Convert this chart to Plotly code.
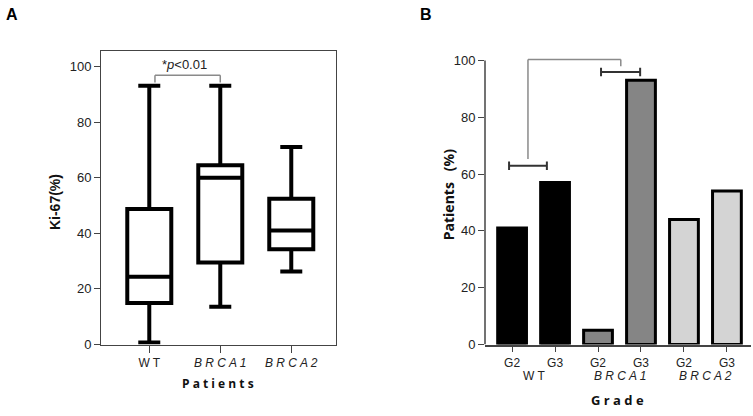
import plotly.graph_objects as go

W, H = 753, 416

# ---------- Data ----------
# Panel A: Ki-67 box plots
box_groups = ["WT", "BRCA1", "BRCA2"]
box_ticktext = ["W T", "<i>B R C A 1</i>", "<i>B R C A 2</i>"]
box_min = [0.7, 13.6, 26.3]
box_q1 = [14.9, 29.5, 34.3]
box_median = [24.4, 60.0, 41.0]
box_q3 = [48.7, 64.5, 52.4]
box_max = [93.0, 93.0, 71.0]

# Panel B: patients (%) by grade
bar_labels = ["G2", "G3", "G2", "G3", "G2", "G3"]
bar_groups = ["W T", "<i>B R C A 1</i>", "<i>B R C A 2</i>"]
bar_values = [41, 57, 5, 93, 44, 54]
bar_colors = ["#000000", "#000000", "#858585", "#858585", "#d4d4d4", "#d4d4d4"]

# ---------- Layout helpers ----------
def px_x(p):
    return p / W

def px_y(p):
    return 1 - p / H

fig = go.Figure()

pos_a = list(range(len(box_groups)))
fig.add_trace(go.Box(
    x=pos_a, q1=box_q1, median=box_median, q3=box_q3,
    lowerfence=box_min, upperfence=box_max,
    width=0.62, whiskerwidth=0.5,
    line=dict(color="black", width=4), fillcolor="white",
    boxpoints=False, showlegend=False, hoverinfo="skip",
    xaxis="x", yaxis="y",
))

pos_b = list(range(len(bar_values)))
fig.add_trace(go.Bar(
    x=pos_b, y=bar_values, width=0.67,
    marker=dict(color=bar_colors, line=dict(color="black", width=3)),
    showlegend=False, hoverinfo="skip",
    xaxis="x2", yaxis="y2",
))

axis_col = "#444444"
tick_font = dict(family="Liberation Sans, Arial, sans-serif", size=13, color="#222")

fig.update_layout(
    width=W, height=H,
    margin=dict(l=0, r=0, t=0, b=0),
    paper_bgcolor="white", plot_bgcolor="white",
    xaxis=dict(
        domain=[px_x(101), px_x(336)], range=[-0.68, 2.63],
        tickvals=pos_a, ticktext=box_ticktext,
        showline=True, mirror=True, linecolor=axis_col, linewidth=1,
        ticks="outside", ticklen=7, tickcolor=axis_col,
        showgrid=False, zeroline=False, tickfont=dict(tick_font, size=12),
    ),
    yaxis=dict(
        domain=[px_y(351), px_y(50)], range=[0, 105.6],
        tickvals=[0, 20, 40, 60, 80, 100],
        showline=True, mirror=True, linecolor=axis_col, linewidth=1,
        ticks="outside", ticklen=6, tickcolor=axis_col,
        showgrid=False, zeroline=False, tickfont=tick_font,
    ),
    xaxis2=dict(
        domain=[px_x(485), px_x(751)], range=[-0.63, 5.56],
        tickvals=pos_b, ticktext=bar_labels,
        showline=True, linecolor=axis_col, linewidth=1.5,
        ticks="outside", ticklen=6, tickcolor=axis_col,
        showgrid=False, zeroline=False, tickfont=dict(tick_font, size=12),
        anchor="y2",
    ),
    yaxis2=dict(
        domain=[px_y(351), px_y(54)], range=[0, 102],
        tickvals=[0, 20, 40, 60, 80, 100],
        showline=False,
        ticks="outside", ticklen=6, tickcolor=axis_col,
        showgrid=False, zeroline=False, tickfont=tick_font,
        anchor="x2",
    ),
)

shapes = []
# Panel B y-axis line from 0 to 100
shapes.append(dict(type="line", xref="x2 domain", yref="y2", x0=0, x1=0, y0=0, y1=100,
                   line=dict(color=axis_col, width=1.5)))
# Panel A significance bracket
gcol = "#8a8a8a"
shapes += [
    dict(type="line", xref="x", yref="y", x0=0.08, x1=1.0, y0=96.8, y1=96.8, line=dict(color=gcol, width=1.5)),
    dict(type="line", xref="x", yref="y", x0=0.08, x1=0.08, y0=94.2, y1=96.8, line=dict(color=gcol, width=1.5)),
    dict(type="line", xref="x", yref="y", x0=1.0, x1=1.0, y0=94.2, y1=96.8, line=dict(color=gcol, width=1.5)),
]
# Panel B brackets
shapes += [
    dict(type="line", xref="x2", yref="y2", x0=0.37, x1=0.37, y0=65.3, y1=100.3, line=dict(color=gcol, width=1.5)),
    dict(type="line", xref="x2", yref="y2", x0=0.37, x1=2.53, y0=100.3, y1=100.3, line=dict(color=gcol, width=1.5)),
    dict(type="line", xref="x2", yref="y2", x0=2.53, x1=2.53, y0=97.9, y1=100.3, line=dict(color=gcol, width=1.5)),
]
dcol = "#333333"
for (xa, xb, yv) in [(-0.07, 0.81, 62.9), (2.07, 2.98, 95.9)]:
    shapes += [
        dict(type="line", xref="x2", yref="y2", x0=xa, x1=xb, y0=yv, y1=yv, line=dict(color=dcol, width=2)),
        dict(type="line", xref="x2", yref="y2", x0=xa, x1=xa, y0=yv - 1.5, y1=yv + 1.5, line=dict(color=dcol, width=2)),
        dict(type="line", xref="x2", yref="y2", x0=xb, x1=xb, y0=yv - 1.5, y1=yv + 1.5, line=dict(color=dcol, width=2)),
    ]
fig.update_layout(shapes=shapes)

title_font = dict(family="Open Sans, Liberation Sans, sans-serif", size=13, color="#111")
C = dict(xanchor="center", yanchor="middle", showarrow=False)
ann = [
    dict(text="<b>A</b>", xref="paper", yref="paper", x=px_x(12), y=px_y(13),
         font=dict(family="Liberation Sans, Arial", size=16, color="black"), **C),
    dict(text="<b>B</b>", xref="paper", yref="paper", x=px_x(426), y=px_y(13),
         font=dict(family="Liberation Sans, Arial", size=16, color="black"), **C),
    dict(text="<b>Ki-67(%)</b>", xref="paper", yref="paper", x=px_x(55), y=px_y(205),
         textangle=-90, font=dict(family="Liberation Sans, Arial", size=14, color="#111"), **C),
    dict(text="<b>P a t i e n t s</b>", xref="paper", yref="paper", x=px_x(218), y=px_y(391),
         font=dict(title_font, size=12), **C),
    dict(text="<b>Patients   (%)</b>", xref="paper", yref="paper", x=px_x(448), y=px_y(198),
         textangle=-90, font=dict(title_font, size=14), **C),
    dict(text="<b>G r a d e</b>", xref="paper", yref="paper", x=px_x(617), y=px_y(408),
         font=dict(title_font, size=13), **C),
    dict(text="*<i>p</i>&lt;0.01", xref="x", yref="y", x=0.5, y=100.8,
         font=tick_font, **C),
    dict(text="**<i>p</i>&lt;0.005", xref="x2", yref="y2", x=1.33, y=104,
         font=tick_font, **C),
]
for i, g in enumerate(bar_groups):
    ann.append(dict(text=g, xref="x2", yref="paper", x=2 * i + 0.5, y=px_y(383),
                    font=dict(tick_font, size=12), **C))
fig.update_layout(annotations=ann)

fig.write_html("out.html", config={"displayModeBar": False},
               post_script="document.body.style.margin='0';document.body.style.overflow='hidden';")
